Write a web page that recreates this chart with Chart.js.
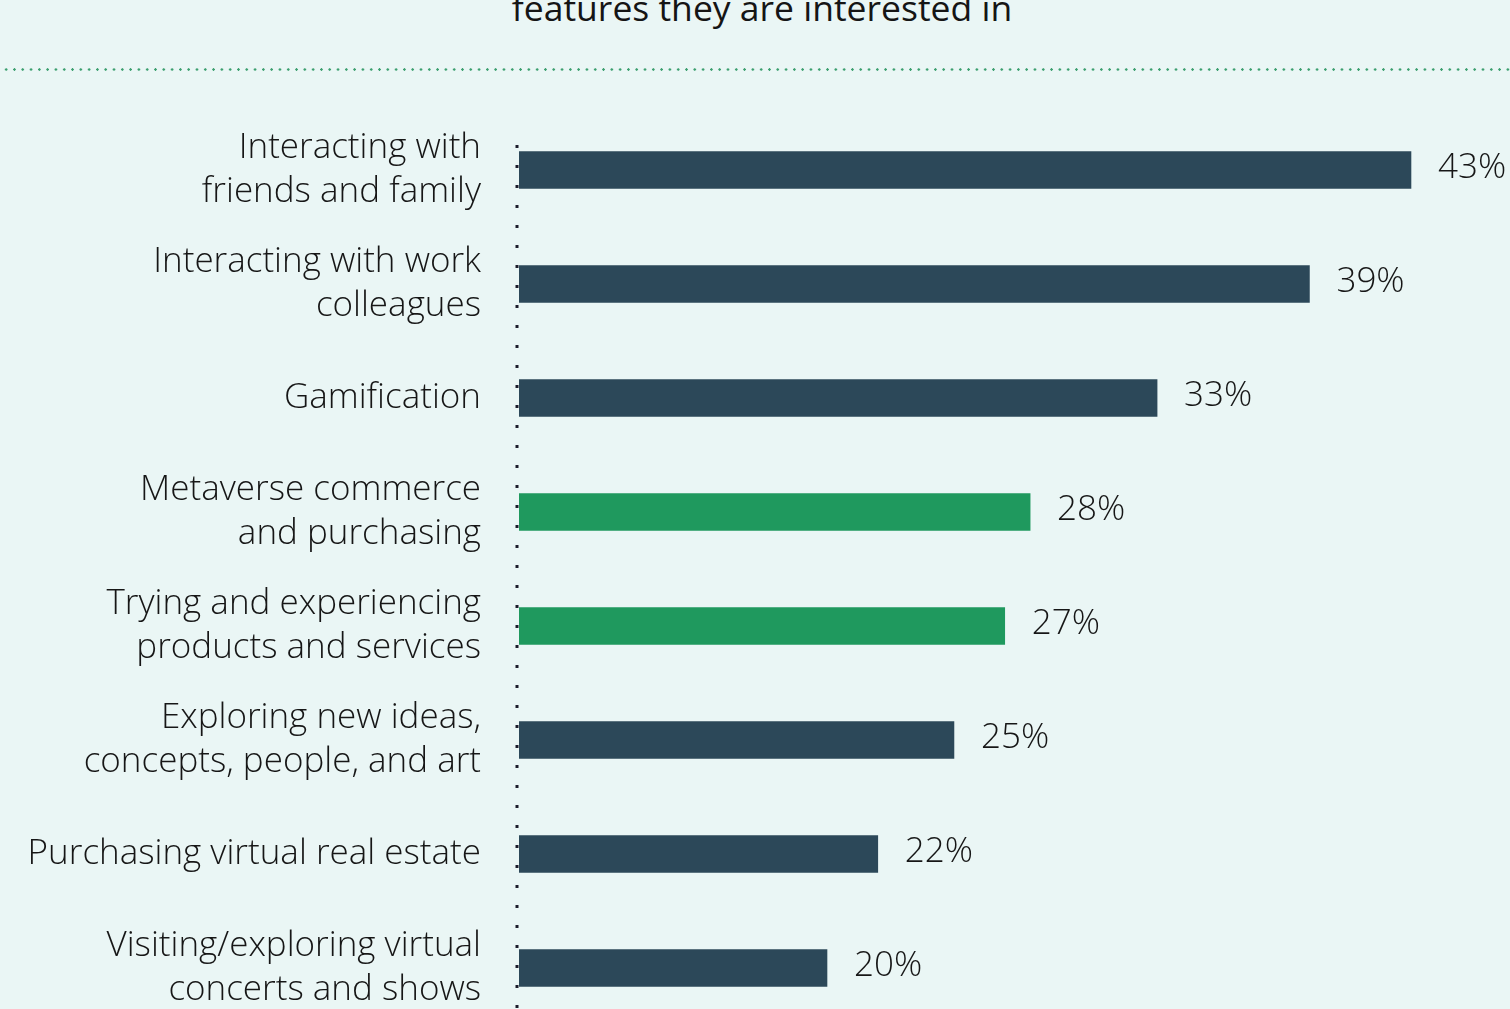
<!DOCTYPE html>
<html>
<head>
<meta charset="utf-8">
<script src="https://cdn.jsdelivr.net/npm/chart.js@4"></script>
<style>
  html, body { margin: 0; padding: 0; background: #eaf6f5; overflow: hidden; }
  #wrap { position: relative; width: 1510px; height: 1009px; }
  #title {
    position: absolute; left: 0; top: -17px; width: 1524px; text-align: center;
    font-family: "Open Sans", sans-serif; font-size: 35.5px; color: #151515;
  }
  #rule {
    position: absolute; left: 2px; top: 68px; width: 1508px; height: 3px;
    background-image: radial-gradient(circle, #3c9f6f 1.2px, transparent 1.4px);
    background-size: 8.3px 3px;
  }
  canvas { position: absolute; left: 0; top: 0; }
</style>
</head>
<body>
<div id="wrap">
  <div id="title">features they are interested in</div>
  <div id="rule"></div>
  <canvas id="myChart" width="1510" height="1040"></canvas>
</div>
<script>
const labels = [
    ["Interacting with", "friends and family"],
    ["Interacting with work", "colleagues"],
    "Gamification",
    ["Metaverse commerce", "and purchasing"],
    ["Trying and experiencing", "products and services"],
    ["Exploring new ideas,", "concepts, people, and art"],
    "Purchasing virtual real estate",
    ["Visiting/exploring virtual", "concerts and shows"]
];
const values = [43, 39, 33, 28, 27, 25, 22, 20];
const barColors = ["#2c4859", "#2c4859", "#2c4859", "#1f995e", "#1f995e", "#2c4859", "#2c4859", "#2c4859"];

const font = "Open Sans";

// dotted line down the left edge of the bars
const axisDots = {
    id: 'axisDots',
    beforeDatasetsDraw(chart) {
        const c = chart.ctx;
        const x = chart.chartArea.left - 2;
        c.save();
        c.strokeStyle = '#1c1c2c';
        c.lineWidth = 3;
        c.setLineDash([3, 17]);
        c.beginPath();
        c.moveTo(x, 145);
        c.lineTo(x, chart.chartArea.bottom);
        c.stroke();
        c.restore();
    }
};

// percentage labels right of each bar
const valueLabels = {
    id: 'valueLabels',
    afterDatasetsDraw(chart) {
        const c = chart.ctx;
        const meta = chart.getDatasetMeta(0);
        c.save();
        c.font = "350 35px '" + font + "'";
        c.fillStyle = '#161616';
        c.textAlign = 'left';
        c.textBaseline = 'middle';
        meta.data.forEach((bar, i) => {
            c.fillText(values[i] + '%', bar.x + 27, bar.y - 2);
        });
        c.restore();
    }
};

const ctx = document.getElementById('myChart').getContext('2d');
const myChart = new Chart(ctx, {
    type: 'bar',
    data: {
        labels: labels,
        datasets: [{
            data: values,
            backgroundColor: barColors,
            barThickness: 37,
            borderWidth: 0
        }]
    },
    options: {
        indexAxis: 'y',
        responsive: false,
        animation: false,
        layout: { padding: { top: 113, bottom: 15, right: 0, left: 0 } },
        plugins: {
            legend: { display: false },
            tooltip: { enabled: false }
        },
        scales: {
            x: {
                display: false,
                min: 7.87,
                max: 46.9
            },
            y: {
                afterFit(scale) {
                    scale.width = 519;
                    scale.paddingTop = 0;
                    scale.paddingBottom = 0;
                },
                grid: { display: false, drawTicks: false },
                border: { display: false },
                ticks: {
                    padding: 38,
                    color: '#161616',
                    font: { family: font, size: 35, weight: 350, lineHeight: 1.26 }
                }
            }
        }
    },
    plugins: [axisDots, valueLabels]
});
</script>
</body>
</html>
